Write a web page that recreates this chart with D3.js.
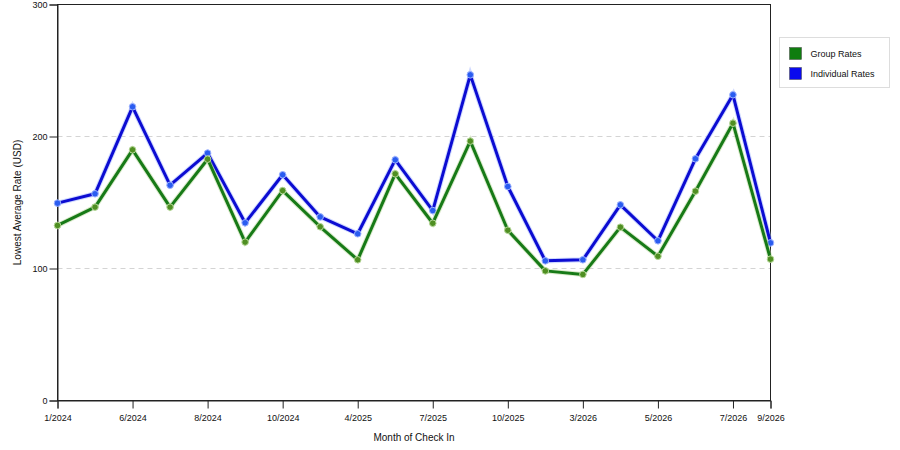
<!DOCTYPE html>
<html>
<head>
<meta charset="utf-8">
<script src="https://cdn.jsdelivr.net/npm/d3@7"></script>
<style>
  body { margin: 0; background: #fff; }
  svg { display: block; font-family: "Liberation Sans", Arial, sans-serif; }
</style>
</head>
<body>
<div id="chart"></div>
<script>
// months of check in (only every other one gets a tick label)
var months = ["1/2024", "3/2024", "6/2024", "7/2024", "8/2024", "9/2024", "10/2024", "12/2024",
  "4/2025", "5/2025", "7/2025", "8/2025", "10/2025", "1/2026", "3/2026", "4/2026",
  "5/2026", "6/2026", "7/2026", "9/2026"];
var tickMonths = ["1/2024", "6/2024", "8/2024", "10/2024", "4/2025", "7/2025", "10/2025",
  "3/2026", "5/2026", "7/2026", "9/2026"];

var groupRates = [132.6, 146.5, 189.9, 146.5, 182.8, 120, 159, 131.6, 106.6, 171.7,
  134.3, 196.5, 129, 98.2, 95.5, 131.3, 109.3, 158.6, 210.1, 107.1];
var individualRates = [149.5, 156.6, 222.5, 163.1, 187.4, 134.6, 171, 139.1, 126.3, 182.3,
  143.9, 246.7, 162.1, 105.8, 106.6, 148.2, 121, 183.1, 231.6, 119.4];

var yTicks = [0, 100, 200, 300];

var svg = d3.select("#chart").append("svg")
  .attr("width", 900)
  .attr("height", 450);

var margin = {top: 4.5, right: 129.5, bottom: 49.5, left: 57.5},
  width = 900 - margin.left - margin.right,
  height = 450 - margin.top - margin.bottom;

var g = svg.append("g").attr("transform", "translate(" + margin.left + "," + margin.top + ")");

var x = d3.scalePoint().domain(months).range([0, width]);
var y = d3.scaleLinear().domain([0, 300]).range([height, 0]);

// dashed gridlines
g.append("g")
  .selectAll("line")
  .data([100, 200])
  .enter().append("line")
    .attr("x1", 0)
    .attr("x2", width)
    .attr("y1", function(d) { return y(d); })
    .attr("y2", function(d) { return y(d); })
    .attr("stroke", "#d4d4d4")
    .attr("stroke-dasharray", "5,4");

// frame
g.append("rect")
  .attr("width", width)
  .attr("height", height)
  .attr("fill", "none")
  .attr("stroke", "#222");

// axes
var xAxis = g.append("g")
  .attr("transform", "translate(0," + height + ")")
  .call(d3.axisBottom(x).tickValues(tickMonths).tickSize(8).tickPadding(6));

var yAxis = g.append("g")
  .call(d3.axisLeft(y).tickValues(yTicks).tickSize(8).tickPadding(2));

[xAxis, yAxis].forEach(function(a) {
  a.select(".domain").attr("stroke", "#222");
  a.selectAll(".tick line").attr("stroke", "#222");
  a.selectAll("text")
    .attr("font-family", "Liberation Sans, Arial, sans-serif")
    .attr("font-size", 9)
    .attr("fill", "#111");
});

// axis titles
svg.append("text")
  .attr("x", margin.left + width / 2)
  .attr("y", 441)
  .attr("text-anchor", "middle")
  .attr("font-size", 10)
  .attr("fill", "#111")
  .text("Month of Check In");

svg.append("text")
  .attr("transform", "translate(21," + (margin.top + height / 2) + ") rotate(-90)")
  .attr("text-anchor", "middle")
  .attr("font-size", 10)
  .attr("fill", "#111")
  .text("Lowest Average Rate (USD)");

// series
var series = [
  {name: "Individual Rates", values: individualRates, line: "#0c0cd2", dot: "#2a5cf0", halo: "#9fb4ff"},
  {name: "Group Rates", values: groupRates, line: "#177a17", dot: "#4f8f22", halo: "#b7d89a"}
];

var line = d3.line()
  .x(function(d, i) { return x(months[i]); })
  .y(function(d) { return y(d); });

series.forEach(function(s) {
  var sg = g.append("g");
  sg.append("path")
    .datum(s.values)
    .attr("fill", "none")
    .attr("stroke", s.halo)
    .attr("stroke-width", 5)
    .attr("stroke-opacity", 0.5)
    .attr("d", line);
  sg.append("path")
    .datum(s.values)
    .attr("fill", "none")
    .attr("stroke", s.line)
    .attr("stroke-width", 3)
    .attr("stroke-linejoin", "round")
    .attr("d", line);
  sg.selectAll("circle")
    .data(s.values)
    .enter().append("circle")
      .attr("cx", function(d, i) { return x(months[i]); })
      .attr("cy", function(d) { return y(d); })
      .attr("r", 3.3)
      .attr("fill", s.dot)
      .attr("stroke", s.halo)
      .attr("stroke-width", 1);
});

// legend
var legend = svg.append("g").attr("transform", "translate(779.5,37.5)");
legend.append("rect")
  .attr("width", 110)
  .attr("height", 50)
  .attr("fill", "#fff")
  .attr("stroke", "#ddd");

var legendItems = [
  {name: "Group Rates", color: "#0f7d0f"},
  {name: "Individual Rates", color: "#0a0aee"}
];

var li = legend.selectAll(".item")
  .data(legendItems)
  .enter().append("g")
    .attr("class", "item")
    .attr("transform", function(d, i) { return "translate(10," + (10 + i * 20) + ")"; });

li.append("rect")
  .attr("width", 12)
  .attr("height", 12)
  .attr("fill", function(d) { return d.color; })
  .attr("stroke", "#444")
  .attr("stroke-width", 0.5);

li.append("text")
  .attr("x", 21)
  .attr("y", 6)
  .attr("dy", "0.35em")
  .attr("font-size", 9)
  .attr("fill", "#111")
  .text(function(d) { return d.name; });
</script>
</body>
</html>
